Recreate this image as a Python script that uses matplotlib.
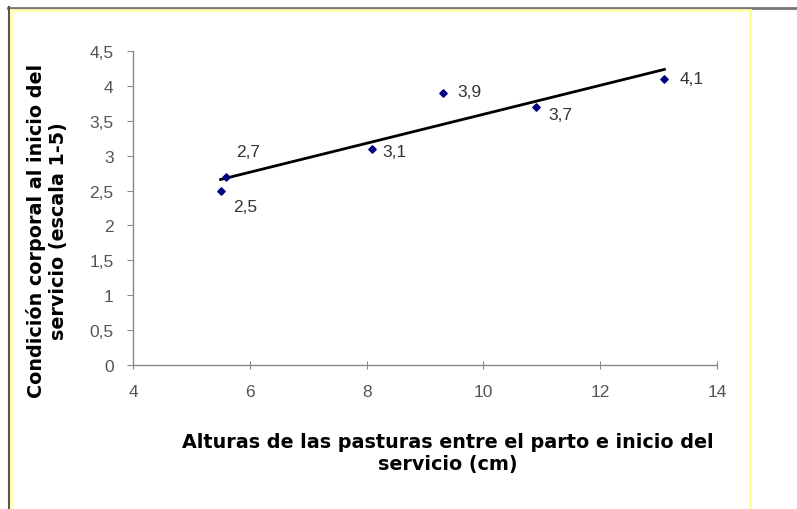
import matplotlib
matplotlib.use("Agg")
import matplotlib.pyplot as plt
import numpy as np
from matplotlib.lines import Line2D

# data
altura = [5.5, 5.6, 8.1, 9.3, 10.9, 13.1]
condicion = [2.5, 2.7, 3.1, 3.9, 3.7, 4.1]
etiquetas = ["2,5", "2,7", "3,1", "3,9", "3,7", "4,1"]
# label offsets in pixels (dx, dy)
offsets = [(13, -16), (10, 25), (10, -3), (15, 1), (12, -8), (15, 0)]

x_ticks = [4, 6, 8, 10, 12, 14]
y_ticks = [0, 0.5, 1, 1.5, 2, 2.5, 3, 3.5, 4, 4.5]

fig = plt.figure(figsize=(7.97, 5.10), dpi=100)
ax = fig.add_axes([133 / 797, 1 - 366 / 510, (717 - 133) / 797, (366 - 52) / 510])

# trend line (least squares)
m, b = np.polyfit(altura, condicion, 1)
xs = np.array([min(altura), max(altura)])
ax.plot(xs, m * xs + b, color="black", lw=2, zorder=2)

ax.scatter(altura, condicion, marker="D", s=14, color="#000080", zorder=3)

for xv, yv, lab, (dx, dy) in zip(altura, condicion, etiquetas, offsets):
    ax.annotate(lab, (xv, yv), xytext=(dx * 0.72, dy * 0.72), textcoords="offset points",
                ha="left", va="center", fontsize=12.5, color="#333333",
                family="Liberation Sans")

ax.set_xlim(4, 14)
ax.set_ylim(0, 4.5)
ax.set_xticks(x_ticks)
ax.set_yticks(y_ticks)
ax.set_xticklabels([str(t) for t in x_ticks], family="Liberation Sans", fontsize=12.5, color="#555555")
ax.set_yticklabels([f"{t:g}".replace(".", ",") for t in y_ticks], family="Liberation Sans",
                   fontsize=12.5, color="#555555")

for s in ["top", "right"]:
    ax.spines[s].set_visible(False)
for s in ["left", "bottom"]:
    ax.spines[s].set_color("#888888")
    ax.spines[s].set_linewidth(1)
ax.tick_params(axis="x", direction="inout", length=6, color="#888888", pad=11)
ax.tick_params(axis="y", direction="out", length=4, color="#888888", pad=10)

fig.text(448 / 797, 1 - 454 / 510, "Alturas de las pasturas entre el parto e inicio del\nservicio (cm)",
         ha="center", va="center", fontsize=13.8, fontweight="bold", family="DejaVu Sans",
         linespacing=1.2)
fig.text(47 / 797, 1 - 231 / 510, "Condición corporal al inicio del\nservicio (escala 1-5)",
         ha="center", va="center", rotation=90, fontsize=13.8, fontweight="bold",
         family="DejaVu Sans", linespacing=1.2)

# frame around the chart
fig.add_artist(Line2D([8 / 797, 1], [1 - 8.5 / 510] * 2, transform=fig.transFigure, color="#777777", lw=2))
fig.add_artist(Line2D([8.5 / 797] * 2, [0, 1 - 8 / 510], transform=fig.transFigure, color="#555555", lw=1.5))
fig.add_artist(Line2D([11 / 797, 750 / 797], [1 - 11 / 510] * 2, transform=fig.transFigure, color="#ffffaa", lw=2))
fig.add_artist(Line2D([11 / 797] * 2, [0, 1 - 11 / 510], transform=fig.transFigure, color="#ffffaa", lw=2))
fig.add_artist(Line2D([750 / 797] * 2, [2 / 510, 1 - 11 / 510], transform=fig.transFigure, color="#ffff88", lw=2))

fig.savefig("out.png", dpi=100)
